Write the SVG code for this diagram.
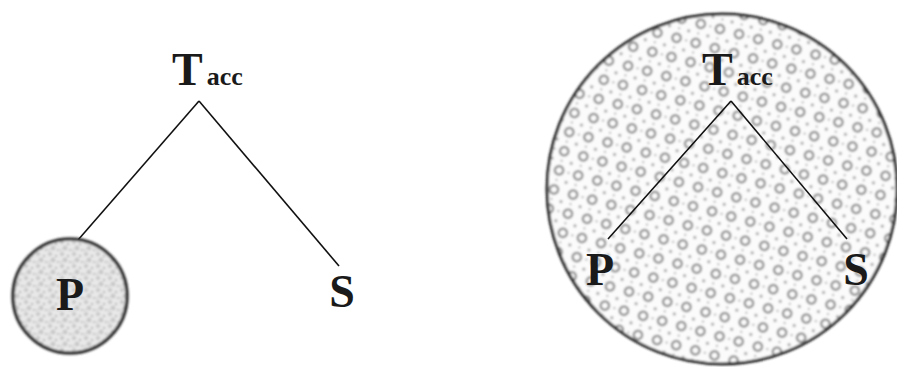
<svg xmlns="http://www.w3.org/2000/svg" width="897" height="367" viewBox="0 0 897 367">
<defs>
<style>
.lbl{font-family:"Liberation Serif","Times New Roman",serif;font-weight:bold;fill:#1a1a1a}
.big{font-size:46px}
.sub{font-size:26px}
.leaf{font-size:46px}
.edge{stroke:#111;stroke-width:1.6;fill:none}
</style>
<pattern id="speck" width="12" height="12" patternUnits="userSpaceOnUse">
<rect width="12" height="12" fill="#e8e8e8"/>
<circle cx="2" cy="2" r="1.8" fill="#b0b0b0"/>
<circle cx="8" cy="4" r="1.3" fill="#c0c0c0"/>
<circle cx="5" cy="8" r="2" fill="#a5a5a5"/>
<circle cx="10" cy="10" r="1.1" fill="#b8b8b8"/>
<circle cx="1" cy="10" r="0.9" fill="#c4c4c4"/>
<circle cx="5" cy="8" r="1" fill="#efefef"/>
<circle cx="2" cy="2" r="0.8" fill="#f0f0f0"/>
</pattern>
<pattern id="rings" width="28" height="28" patternUnits="userSpaceOnUse" patternTransform="rotate(-30)">
<rect width="28" height="28" fill="#fbfbfb"/>
<circle cx="7" cy="7" r="4.2" fill="none" stroke="#858585" stroke-width="2.2"/>
<circle cx="21" cy="21" r="4.2" fill="none" stroke="#858585" stroke-width="2.2"/>
<circle cx="21" cy="7" r="1.5" fill="#999"/>
<circle cx="7" cy="21" r="1.5" fill="#999"/>
<circle cx="14" cy="14" r="1.1" fill="#a5a5a5"/>
<circle cx="0" cy="14" r="1.1" fill="#a5a5a5"/>
<circle cx="14" cy="0" r="1.1" fill="#a5a5a5"/>
<circle cx="28" cy="14" r="1.1" fill="#a5a5a5"/>
<circle cx="14" cy="28" r="1.1" fill="#a5a5a5"/>
</pattern>
<filter id="blur" x="-10%" y="-10%" width="120%" height="120%">
<feGaussianBlur stdDeviation="0.9"/>
</filter>
</defs>
<rect width="897" height="367" fill="#fff"/>
<g id="connectors">
<line class="edge" x1="199" y1="101" x2="78" y2="240"/>
<line class="edge" x1="199" y1="101" x2="339" y2="266"/>
</g>
<g id="node-P-left">
<circle cx="70" cy="296" r="57" fill="url(#speck)" stroke="#333" stroke-width="3.5" filter="url(#blur)"/>
<text class="lbl leaf" x="70" y="310" text-anchor="middle">P</text>
</g>
<g id="node-T-left">
<text class="lbl" x="172" y="85"><tspan class="big">T</tspan><tspan class="sub" dx="4">acc</tspan></text>
</g>
<g id="node-S-left">
<text class="lbl leaf" x="342" y="307" text-anchor="middle">S</text>
</g>
<g id="node-right">
<circle cx="722" cy="189" r="175" fill="url(#rings)" stroke="#222" stroke-width="3" filter="url(#blur)"/>
<g id="right-connectors">
<line class="edge" x1="731" y1="101" x2="608" y2="239"/>
<line class="edge" x1="731" y1="101" x2="847" y2="239"/>
</g>
<text class="lbl" x="702" y="85"><tspan class="big">T</tspan><tspan class="sub" dx="4">acc</tspan></text>
<text class="lbl leaf" x="600" y="285" text-anchor="middle">P</text>
<text class="lbl leaf" x="856" y="285" text-anchor="middle">S</text>
</g>
</svg>
